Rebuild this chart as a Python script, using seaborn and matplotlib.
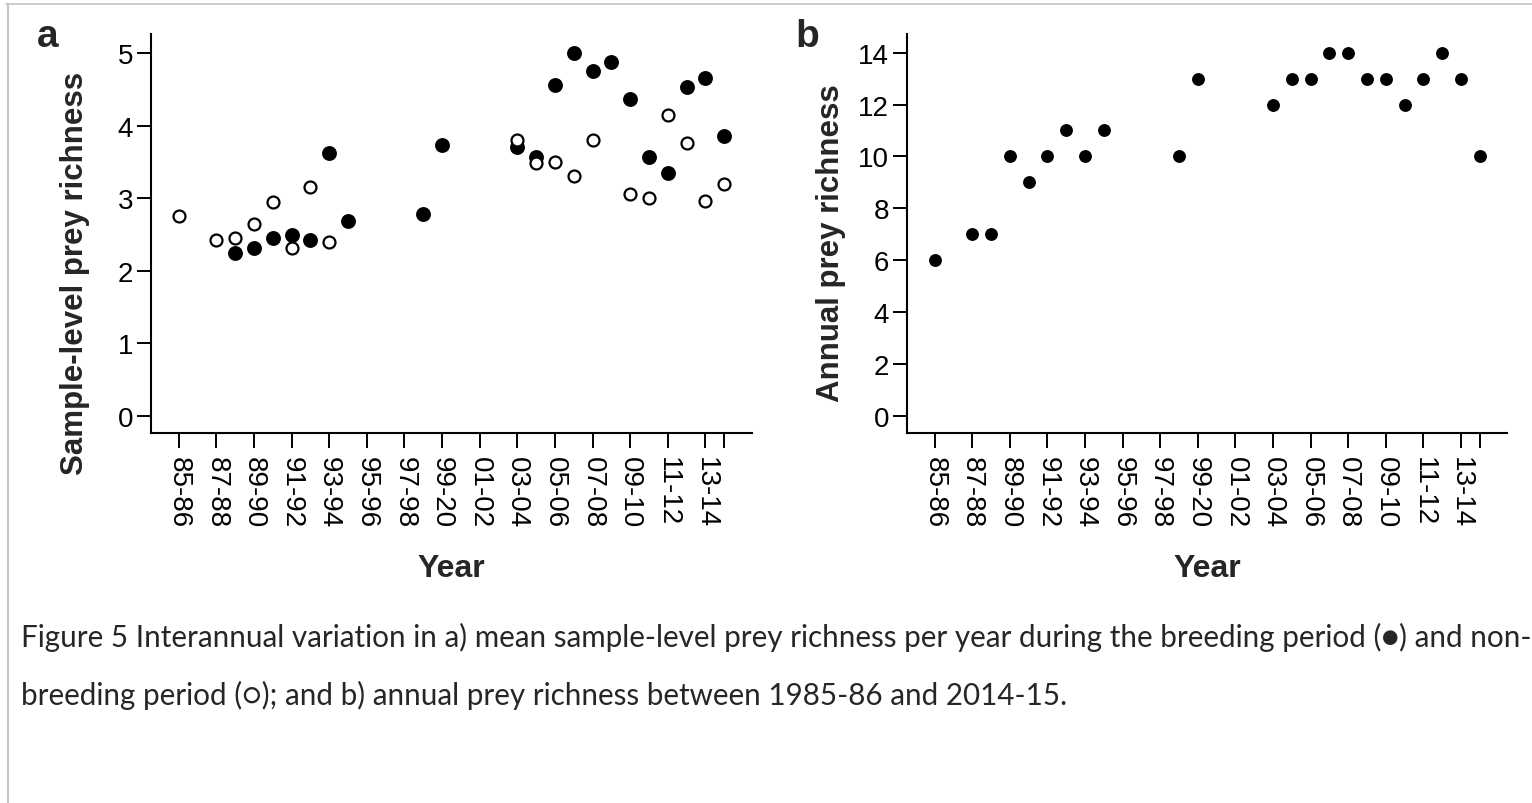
import numpy as np
import pandas as pd
import matplotlib
matplotlib.use("Agg")
import matplotlib.pyplot as plt
import seaborn as sns
from matplotlib.lines import Line2D

# ---------------- data ----------------
seasons = ["85-86", "86-87", "87-88", "88-89", "89-90", "90-91", "91-92", "92-93",
           "93-94", "94-95", "95-96", "96-97", "97-98", "98-99", "99-20", "00-01",
           "01-02", "02-03", "03-04", "04-05", "05-06", "06-07", "07-08", "08-09",
           "09-10", "10-11", "11-12", "12-13", "13-14", "14-15"]
nan = np.nan
breeding = [nan, nan, nan, 2.24, 2.32, 2.45, 2.50, 2.42, 3.62, 2.69,
            nan, nan, nan, 2.78, 3.74, nan, nan, nan, 3.71, 3.57,
            4.57, 5.00, 4.76, 4.88, 4.37, 3.57, 3.35, 4.53, 4.66, 3.86]
non_breeding = [2.75, nan, 2.42, 2.45, 2.64, 2.95, 2.31, 3.16, 2.39, nan,
                nan, nan, nan, nan, nan, nan, nan, nan, 3.81, 3.49,
                3.50, 3.31, 3.80, nan, 3.06, 3.01, 4.15, 3.76, 2.96, 3.20]
annual = [6, nan, 7, 7, 10, 9, 10, 11, 10, 11,
          nan, nan, nan, 10, 13, nan, nan, nan, 12, 13,
          13, 14, 14, 13, 13, 12, 13, 14, 13, 10]
yticks_a = [0, 1, 2, 3, 4, 5]
yticks_b = [0, 2, 4, 6, 8, 10, 12, 14]
caption1 = ("Figure 5 Interannual variation in a) mean sample-level prey richness per year "
            "during the breeding period (\u25cf) and non-")
caption2 = "breeding period (\u25cb); and b) annual prey richness between 1985-86 and 2014-15."

df = pd.DataFrame({"idx": np.arange(len(seasons)), "season": seasons,
                   "breeding": breeding, "non_breeding": non_breeding,
                   "annual": annual})

# ---------------- style ----------------
sns.set_style("ticks")
plt.rcParams["font.family"] = ["Liberation Sans", "DejaVu Sans"]

W, H = 1532, 804
fig = plt.figure(figsize=(W / 100, H / 100), dpi=100)


def rect(l, r, t, b):
    return [l / W, 1 - b / H, (r - l) / W, (b - t) / H]


axa = fig.add_axes(rect(151, 751.7, 35, 434.3))
axb = fig.add_axes(rect(907, 1507.3, 35, 434.3))

# panel a
sns.scatterplot(data=df, x="idx", y="breeding", ax=axa, color="black",
                s=115, linewidth=0, zorder=3, legend=False)
sns.scatterplot(data=df, x="idx", y="non_breeding", ax=axa, color="white",
                edgecolor="black", s=74, linewidth=1.6, zorder=4, legend=False)
# panel b
sns.scatterplot(data=df, x="idx", y="annual", ax=axb, color="black",
                s=86, linewidth=0, zorder=3, legend=False)

tick_idx = list(range(0, len(seasons) - 1, 2)) + [len(seasons) - 1]
tick_lab = [seasons[i] for i in range(0, len(seasons) - 1, 2)] + [""]

for ax, yt, ylab, ylim, ycen in [
        (axa, yticks_a, "Sample-level prey richness", (-0.243, 5.267), 0.4027),
        (axb, yticks_b, "Annual prey richness", (-0.68, 14.72), 0.479)]:
    ax.set_xlim(-1.47, len(seasons) - 1 + 1.46)
    ax.set_ylim(*ylim)
    ax.set_yticks(yt)
    ax.set_yticklabels([str(v) for v in yt])
    ax.set_xticks(tick_idx)
    ax.set_xticklabels(tick_lab, rotation=-90, ha="center", va="top")
    for s in ["top", "right"]:
        ax.spines[s].set_visible(False)
    for s in ["left", "bottom"]:
        ax.spines[s].set_linewidth(1.5)
        ax.spines[s].set_color("black")
    ax.tick_params(axis="y", direction="out", length=10, width=1.4,
                   labelsize=20, pad=3, colors="black")
    ax.tick_params(axis="x", direction="out", length=11, width=1.4,
                   labelsize=20, pad=5, colors="black")
    ax.set_ylabel(ylab, fontsize=22.5, fontweight="bold")
    ax.yaxis.set_label_coords(-0.102, ycen)
    ax.set_xlabel("Year", fontsize=23, fontweight="bold")
    ax.xaxis.set_label_coords(0.5, -0.30)
    ax.grid(False)

fig.text(37 / W, 1 - 47 / H, "a", fontsize=28, fontweight="bold", va="baseline")
fig.text(795 / W, 1 - 47 / H, "b", fontsize=28, fontweight="bold", va="baseline")

fig.text(21 / W, 1 - 637 / H, caption1, fontsize=21.3, va="center",
         family=["Lato", "DejaVu Sans"])
fig.text(21 / W, 1 - 695 / H, caption2, fontsize=21.3, va="center",
         family=["Lato", "DejaVu Sans"])

# page border
fig.add_artist(Line2D([6 / W, 1], [1 - 5 / H, 1 - 5 / H], transform=fig.transFigure,
                      color="#c4c4c4", lw=1.2))
fig.add_artist(Line2D([7.5 / W, 7.5 / W], [0, 1 - 5 / H], transform=fig.transFigure,
                      color="#c4c4c4", lw=1.5))

fig.savefig("out.png", dpi=100, facecolor="white")
